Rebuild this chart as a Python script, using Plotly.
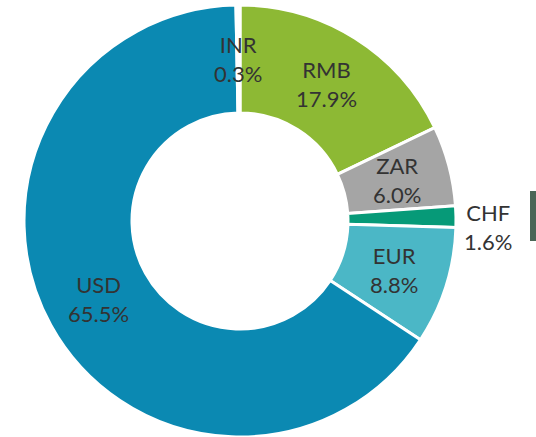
import math
import plotly.graph_objects as go

categories = ["RMB", "ZAR", "CHF", "EUR", "USD", "INR"]
shares = [17.9, 6.0, 1.6, 8.8, 65.5, 0.3]
colors = ["#8DB934", "#A5A5A5", "#069A78", "#4BB7C6", "#0B89B2", "#FFFFFF"]
outside = ["CHF"]

W, H = 536, 437
cx, cy, R = 240, 221, 216  # pixel centre / radius of the donut

fig = go.Figure(go.Pie(
    labels=categories, values=shares, sort=False, direction="clockwise",
    rotation=0, hole=0.5, textinfo="none", hoverinfo="label+percent",
    marker=dict(colors=colors, line=dict(color="white", width=3)),
    domain=dict(x=[(cx - R) / W, (cx + R) / W], y=[(H - cy - R) / H, (H - cy + R) / H]),
    showlegend=False,
))

total = sum(shares)
cum = 0.0
annotations = []
for cat, v in zip(categories, shares):
    mid = (cum + v / 2) / total * 2 * math.pi
    cum += v
    r = 1.15 * R if cat in outside else 0.75 * R
    px = cx + r * math.sin(mid)
    py = cy - r * math.cos(mid)
    annotations.append(dict(
        x=px / W, y=1 - py / H, xref="paper", yref="paper",
        text=f"{cat}<br>{v:.1f}%", showarrow=False,
        font=dict(family="Lato, Open Sans, sans-serif", size=22, color="#333333"),
        align="center", xanchor="center", yanchor="middle",
        yshift=-11 if cat in outside else 0,
    ))

fig.update_layout(
    width=W, height=H, margin=dict(l=0, r=0, t=0, b=0),
    paper_bgcolor="white", plot_bgcolor="white",
    annotations=annotations,
    shapes=[dict(type="rect", xref="paper", yref="paper",
                 x0=530 / W, x1=1.0, y0=1 - 241 / H, y1=1 - 191 / H,
                 fillcolor="#4A6656", line=dict(width=0))],
)
fig.write_html("out.html", config={"displayModeBar": False},
               post_script="document.body.style.margin='0';document.body.style.overflow='hidden';")
